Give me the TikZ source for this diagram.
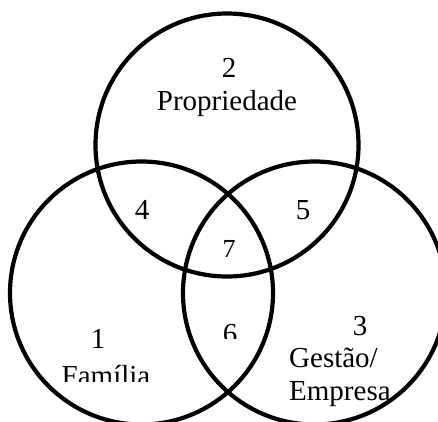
\documentclass[tikz,border=0pt]{standalone}
\usepackage{fontspec}
\setmainfont{Liberation Serif}
\usetikzlibrary{positioning}

\begin{document}
\begin{tikzpicture}[x=1pt, y=-1pt,
    venn/.style={circle, draw, line width=4.2pt, minimum size=263pt, inner sep=0pt},
    lbl/.style={anchor=base, inner sep=0pt, font=\fontsize{29}{33}\selectfont}]
    \useasboundingbox (0,0) rectangle (438,421);

    % the three circles
    \node[venn] (prop) at (227,145) {};
    \node[venn] (fam) at (141.5,293) {};
    \node[venn] (gest) at (314.5,293) {};

    \node[lbl] (n2) at (229,77) {2};
    \node[lbl] (tprop) at (227,110) {Propriedade};

    \node[lbl] (n4) at (142,219) {4};
    \node[lbl] (n5) at (303,219) {5};
    \node[lbl, font=\fontsize{26}{30}\selectfont] (n7) at (229,257) {7};

    \node[lbl] (n1) at (98,348) {1};
    \node[lbl] (n3) at (360,335) {3};
    \node[lbl, anchor=base west] (tgest) at (289,367) {Gestão/};
    \node[lbl, anchor=base west] (temp) at (289,400) {Empresa};

    % cut-off labels
    \begin{scope}
        \clip (190,300) rectangle (270,338);
        \node[lbl] (n6) at (230,343) {6};
    \end{scope}
    \begin{scope}
        \clip (40,350) rectangle (170,381);
        \node[lbl] (tfam) at (106,385) {Família};
    \end{scope}
\end{tikzpicture}
\end{document}
